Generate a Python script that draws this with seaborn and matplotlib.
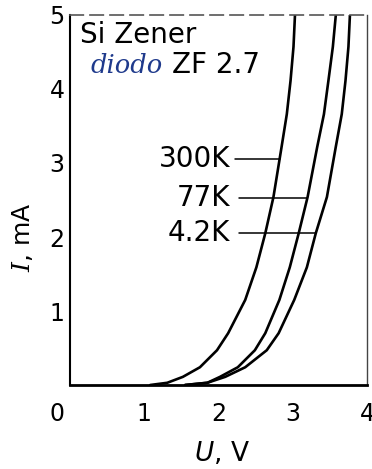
import numpy as np
import pandas as pd
import matplotlib
matplotlib.use("Agg")
import matplotlib.pyplot as plt
import seaborn as sns

# I-U curves of the Si Zener diode (U in V, I in mA)
u_300k = [1.08, 1.31, 1.52, 1.75, 1.98, 2.13, 2.36, 2.51, 2.63, 2.74, 2.85, 2.92, 2.97, 3.01, 3.03]
i_300k = [0.00, 0.03, 0.11, 0.24, 0.47, 0.70, 1.15, 1.59, 2.05, 2.54, 3.22, 3.66, 4.11, 4.57, 5.00]

u_77k = [1.55, 1.85, 2.02, 2.26, 2.49, 2.63, 2.82, 2.96, 3.08, 3.20, 3.33, 3.42, 3.48, 3.54, 3.58]
i_77k = [0.00, 0.03, 0.11, 0.24, 0.47, 0.70, 1.15, 1.59, 2.05, 2.54, 3.22, 3.66, 4.11, 4.57, 5.00]

u_4k = [1.55, 1.85, 2.09, 2.36, 2.65, 2.81, 3.02, 3.19, 3.31, 3.46, 3.58, 3.66, 3.71, 3.75, 3.77]
i_4k = [0.00, 0.03, 0.11, 0.24, 0.47, 0.70, 1.15, 1.59, 2.05, 2.54, 3.22, 3.66, 4.11, 4.57, 5.00]

temps = ["300K", "77K", "4.2K"]
x_ticks = [1, 2, 3, 4]
y_ticks = [1, 2, 3, 4, 5]

curves = {"300K": (u_300k, i_300k), "77K": (u_77k, i_77k), "4.2K": (u_4k, i_4k)}

sns.set_style("white")
plt.rcParams["font.family"] = ["DejaVu Sans"]
plt.rcParams["text.color"] = "black"
plt.rcParams["axes.labelcolor"] = "black"
plt.rcParams["xtick.color"] = "black"
plt.rcParams["ytick.color"] = "black"
plt.rcParams["mathtext.fontset"] = "custom"
plt.rcParams["mathtext.it"] = "DejaVu Serif:italic"
plt.rcParams["mathtext.sf"] = "DejaVu Sans:italic"

fig = plt.figure(figsize=(3.72, 4.69), dpi=100)
ax = fig.add_axes([70 / 372, 1 - 385 / 469, 297 / 372, 370 / 469])

for t in temps:
    u, i = curves[t]
    df = pd.DataFrame({"U": u, "I": i})
    sns.lineplot(data=df, x="U", y="I", sort=False, estimator=None,
                 color="black", linewidth=1.9, ax=ax)

# labels with leader lines to each curve
lab_y = {"300K": 3.05, "77K": 2.53, "4.2K": 2.05}
lead_x0 = {"300K": 2.22, "77K": 2.28, "4.2K": 2.28}
for t in temps:
    u, i = curves[t]
    y = lab_y[t]
    x_end = np.interp(y, i, u)
    ax.plot([lead_x0[t], x_end], [y, y], color="black", lw=1.1)
    ax.text(2.155, y, t, ha="right", va="center", fontsize=20)

ax.text(0.135, 4.62, "Si Zener", fontsize=20, va="baseline")
ax.text(0.27, 4.22, "diodo", fontsize=18.5, va="baseline", color="#1f3a8c",
        family="DejaVu Serif", style="italic")
ax.text(1.37, 4.22, "ZF 2.7", fontsize=20, va="baseline")

ax.set_xlim(0, 4)
ax.set_ylim(0, 5)
ax.set_xticks(x_ticks)
ax.set_yticks(y_ticks)
ax.tick_params(direction="in", length=9, width=1.2, labelsize=17, color="black")
ax.tick_params(axis="x", pad=12)
ax.tick_params(axis="y", pad=4)
ax.text(-0.175, -0.046, "0", transform=ax.get_xaxis_transform(),
        ha="center", va="top", fontsize=17)

ax.set_xlabel(r"$\mathsf{U}$, V", fontsize=19)
ax.set_ylabel(r"$I$, mA", fontsize=18)
ax.xaxis.set_label_coords(0.512, -0.148)
ax.yaxis.set_label_coords(-0.118, 0.40)

ax.spines["left"].set_linewidth(1.5)
ax.spines["bottom"].set_linewidth(2.0)
ax.spines["right"].set_linewidth(1.0)
ax.spines["right"].set_color("#444444")
ax.spines["top"].set_linewidth(1.2)
ax.spines["top"].set_color("#555555")
ax.spines["top"].set_linestyle((0, (8, 4)))
for s in ["left", "bottom"]:
    ax.spines[s].set_color("black")

fig.savefig("out.png", dpi=100)
